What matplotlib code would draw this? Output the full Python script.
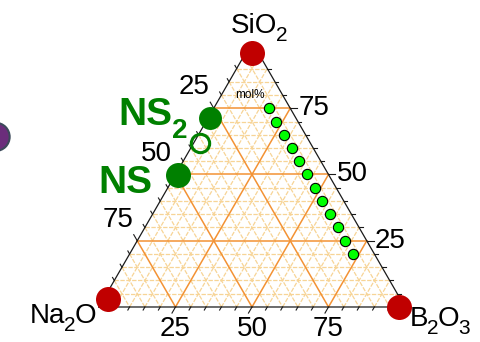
import numpy as np
import matplotlib
matplotlib.use("Agg")
import matplotlib.pyplot as plt
from matplotlib.patches import Circle

plt.rcParams['font.family'] = ['Liberation Sans', 'DejaVu Sans']

# ---- data (mol%: Na2O, SiO2, B2O3) ----
corner_names = ["Na2O", "SiO2", "B2O3"]
corner_na = [95.5, 2.0, 2.0]
corner_si = [3.0, 96.0, 0.0]
corner_b = [1.5, 2.0, 98.0]

ns2_na, ns2_si, ns2_b = 28.0, 71.3, 0.7          # NS2 (filled)
ns2o_na, ns2o_si, ns2o_b = 36.1, 61.9, 2.0       # NS2 (open)
ns_na, ns_si, ns_b = 49.3, 49.8, 0.9             # NS

glass_si = [75, 70, 65, 60, 55, 50, 45, 40, 35, 30, 25, 20]
glass_b = [18, 23, 28, 33, 38, 43, 48, 53, 58, 63, 68, 73]
glass_na = [100 - s - b for s, b in zip(glass_si, glass_b)]

major_ticks = [25, 50, 75]
minor_step = 5

SQ = np.sqrt(3) / 2


def tern(na, si, b):
    na, si, b = (np.asarray(v, dtype=float) for v in (na, si, b))
    tot = na + si + b
    return (b + si / 2) / tot, si / tot * SQ


fig = plt.figure(figsize=(4.81, 3.42), dpi=100)
ax = fig.add_axes([0, 0, 1, 1])
ax.set_xlim(-0.3235, 1.2484)
ax.set_ylim(-0.1144, 1.0033)
ax.set_aspect('equal')
ax.axis('off')
renderer = fig.canvas.get_renderer()

px = 1 / 306.0  # one pixel in data units

major_c = '#f39234'
minor_c = '#f7d496'


def grid_line(val, **kw):
    f = val / 100
    # SiO2 constant
    x, y = tern([1 - f, 0], [f, f], [0, 1 - f])
    ax.plot(x, y, **kw)
    # B2O3 constant
    x, y = tern([1 - f, 0], [0, 1 - f], [f, f])
    ax.plot(x, y, **kw)
    # Na2O constant
    x, y = tern([f, f], [1 - f, 0], [0, 1 - f])
    ax.plot(x, y, **kw)


for v in range(minor_step, 100, minor_step):
    if v in major_ticks:
        continue
    grid_line(v, color=minor_c, lw=0.9, ls=(0, (3.5, 1.2)), zorder=1)
for v in major_ticks:
    grid_line(v, color=major_c, lw=1.1, zorder=2)

# triangle edges
tx, ty = tern([1, 0, 0, 1], [0, 1, 0, 0], [0, 0, 1, 0])
ax.plot(tx, ty, color='#1a1a1a', lw=0.9, zorder=3)

# ticks
for v in range(minor_step, 100, minor_step):
    f = v / 100
    L = (7 if v in major_ticks else 3.5) * px
    # bottom (B2O3): down-left
    x0, y0 = f, 0
    ax.plot([x0, x0 - 0.5 * L], [y0, y0 - SQ * L], color='#1a1a1a', lw=0.8, zorder=3)
    # right (SiO2): to the right
    x0, y0 = 1 - f / 2, f * SQ
    ax.plot([x0, x0 + L], [y0, y0], color='#1a1a1a', lw=0.8, zorder=3)
    # left (Na2O): up-left
    x0, y0 = (1 - f) / 2, (1 - f) * SQ
    ax.plot([x0, x0 - 0.5 * L], [y0, y0 + SQ * L], color='#1a1a1a', lw=0.8, zorder=3)

# tick labels
fs = 20
for v in major_ticks:
    f = v / 100
    ax.text(f, -0.0735, str(v), ha='center', va='center', fontsize=fs)
    ax.text(1 - f / 2 + 8 * px, f * SQ, str(v), ha='left', va='center', fontsize=fs)
    ax.text((1 - f) / 2 - 4 * px, (1 - f) * SQ + 21 * px, str(v),
            ha='right', va='center', fontsize=fs)


def text_width(s, size, **kw):
    t = ax.text(0, 0, s, fontsize=size, **kw)
    w = t.get_window_extent(renderer).width * px
    t.remove()
    return w


def formula(x, y, parts, ha='left', size=20, sub_size=15, drop=8, kern=-1, **kw):
    """Draw a formula given as (text, is_subscript) pieces on a shared baseline."""
    widths = [text_width(s, sub_size if sub else size, **kw) for s, sub in parts]
    steps = [w + (kern * px if sub else 0) for (s, sub), w in zip(parts, widths)]
    offs = [kern * px if sub else 0 for s, sub in parts]
    total = sum(steps) + sum(offs)
    x0 = {'left': x, 'center': x - total / 2, 'right': x - total}[ha]
    for (s, sub), st, o in zip(parts, steps, offs):
        x0 += o
        ax.text(x0, y - (drop * px if sub else 0), s, ha='left', va='baseline',
                fontsize=sub_size if sub else size, **kw)
        x0 += st


# corner labels
formula(0.523, 0.8954, [('SiO', False), ('2', True)], ha='center')
formula(-0.0098, -0.0513, [('Na', False), ('2', True), ('O', False)], ha='right')
formula(1.0163, -0.0621, [('B', False), ('2', True), ('O', False), ('3', True)], ha='left')
ax.text(0.4935, 0.6928, 'mol%', ha='center', va='center', fontsize=8.5)

# corner markers
cx, cy = tern(corner_na, corner_si, corner_b)
ax.plot(cx, cy, 'o', ms=18, color='#c00000', mec='none', zorder=5)

# glass compositions
gx, gy = tern(glass_na, glass_si, glass_b)
ax.plot(gx, gy, 'o', ms=7.4, color='#00ff00', mec='black', mew=0.8, zorder=5)

# crystalline phases
green = '#008000'
x, y = tern(ns2_na, ns2_si, ns2_b)
ax.plot(x, y, 'o', ms=16.5, color=green, mec='none', zorder=5)
x, y = tern(ns2o_na, ns2o_si, ns2o_b)
ax.plot(x, y, 'o', ms=13.2, mfc='none', mec=green, mew=2.2, zorder=5)
x, y = tern(ns_na, ns_si, ns_b)
ax.plot(x, y, 'o', ms=18, color=green, mec='none', zorder=5)

ax.text(0.2386, 0.5948, 'NS', ha='right', va='baseline', fontsize=28,
        fontweight='bold', color=green)
ax.text(0.2386, 0.5523, '2', ha='left', va='baseline', fontsize=20,
        fontweight='bold', color=green)
ax.text(0.1732, 0.3725, 'NS', ha='right', va='baseline', fontsize=28,
        fontweight='bold', color=green)

# decorative dot at the left edge
ax.add_patch(Circle((-0.338, 0.556), 0.046, facecolor='#6b2d7b',
                    edgecolor='#3c4a5a', lw=1.5, clip_on=False, zorder=4))

fig.savefig('out.png', dpi=100)
